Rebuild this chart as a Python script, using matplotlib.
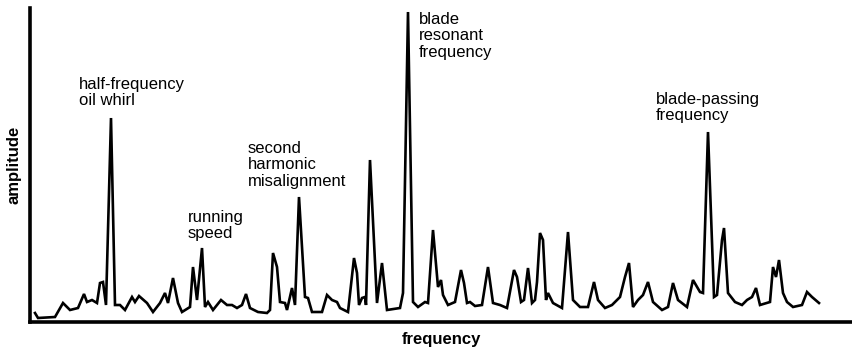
import matplotlib.pyplot as plt

plt.rcParams['font.family'] = ['Liberation Sans', 'DejaVu Sans']

# spectrum (frequency in arbitrary units, amplitude in arbitrary units)
freq = [35, 38, 55, 63, 70, 78, 84, 87, 92, 97, 100, 103, 106, 111, 115, 120, 125, 132, 135, 139,
        147, 153, 160, 165, 168, 173, 178, 182, 190, 193, 197, 202, 205, 208, 213, 221, 227, 232, 237, 242,
        246, 250, 258, 267, 270, 273, 277, 280, 285, 287, 292, 295, 299, 305, 308, 312, 322, 327, 332, 337,
        340, 348, 354, 357, 359, 362, 365, 366, 370, 377, 382, 387, 400, 403, 408, 413, 418, 425, 428, 433,
        438, 441, 443, 448, 455, 461, 464, 467, 470, 475, 482, 488, 493, 500, 507, 514, 517, 521, 524, 528,
        532, 535, 537, 540, 543, 546, 548, 553, 562, 568, 573, 580, 588, 594, 598, 605, 612, 620, 625, 629,
        633, 638, 643, 648, 653, 662, 668, 673, 678, 687, 693, 700, 703, 708, 714, 717, 722, 724, 728, 735,
        742, 747, 752, 756, 760, 770, 773, 776, 779, 783, 787, 793, 802, 807, 812, 819]
amplitude = [9, 4, 5, 19, 12, 14, 28, 20, 22, 19, 39, 40, 17, 204, 17, 17, 12, 25, 20, 26,
             19, 10, 19, 29, 19, 44, 19, 10, 15, 55, 22, 74, 15, 20, 12, 22, 17, 17, 14, 17,
             28, 14, 10, 9, 12, 69, 55, 20, 19, 12, 34, 17, 125, 25, 24, 10, 10, 27, 22, 20,
             14, 10, 64, 49, 17, 24, 25, 17, 162, 19, 59, 12, 14, 29, 310, 20, 15, 20, 19, 92,
             35, 42, 27, 17, 20, 52, 39, 19, 20, 16, 17, 55, 19, 17, 14, 52, 45, 20, 22, 54,
             19, 22, 40, 89, 82, 22, 29, 19, 14, 90, 22, 15, 15, 40, 22, 14, 17, 25, 45, 59,
             15, 22, 27, 40, 20, 12, 15, 39, 22, 15, 42, 30, 29, 190, 25, 27, 82, 94, 29, 20,
             17, 22, 25, 34, 17, 20, 55, 45, 62, 29, 20, 15, 17, 30, 25, 19]

labels = ["half-frequency\noil whirl", "running\nspeed", "second\nharmonic\nmisalignment",
          "blade\nresonant\nfrequency", "blade-passing\nfrequency"]
label_x = [79, 188, 248, 419, 656]
label_top = [245, 112, 181, 310, 230]

fig = plt.figure(figsize=(8.53, 3.51), dpi=100)
ax = fig.add_axes([30 / 853, 29 / 351, 1 - 30 / 853, 314 / 351])

ax.plot(freq, amplitude, color="black", linewidth=1.9, solid_joinstyle="miter")

for txt, x, y in zip(labels, label_x, label_top):
    ax.text(x, y, txt, fontsize=12, va="top", ha="left", linespacing=1.12)

ax.set_xlim(30, 853)
ax.set_ylim(0, 314)
ax.set_xticks([])
ax.set_yticks([])
for side in ["top", "right"]:
    ax.spines[side].set_visible(False)
for side in ["left", "bottom"]:
    ax.spines[side].set_linewidth(2.6)

ax.set_xlabel("frequency", fontsize=12, fontweight="bold", labelpad=7)
ax.set_ylabel("amplitude", fontsize=12, fontweight="bold", labelpad=6)

fig.savefig("out.png", dpi=100)
